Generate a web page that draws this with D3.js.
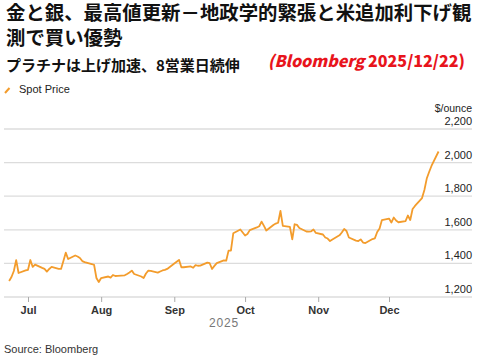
<!DOCTYPE html>
<html><head><meta charset="utf-8">
<script src="https://cdn.jsdelivr.net/npm/d3@7"></script>
<style>
html,body{margin:0;padding:0;background:#fff;}
svg{display:block;}
</style></head>
<body>
<svg id="chart" width="480" height="360"></svg>
<script>
const titleLines = ["金と銀、最高値更新－地政学的緊張と米追加利下げ観", "測で買い優勢"];
const subtitle = "プラチナは上げ加速、8営業日続伸";
const stampParts = ["(Bloomberg ", "2025/12/22)"];
const seriesName = "Spot Price";
const unitLabel = "$/ounce";
const yTicks = [1200, 1400, 1600, 1800, 2000, 2200];
const xTickDates = ["2025-07-01","2025-08-01","2025-09-01","2025-10-01","2025-11-01","2025-12-01"];
const xTickLabels = ["Jul","Aug","Sep","Oct","Nov","Dec"];
const yearLabel = "2025";
const source = "Source: Bloomberg";

const dates = [
"2025-06-23","2025-06-24","2025-06-25","2025-06-26","2025-06-27",
"2025-06-30","2025-07-01","2025-07-02","2025-07-03","2025-07-04",
"2025-07-07","2025-07-08","2025-07-09","2025-07-10","2025-07-11",
"2025-07-14","2025-07-15","2025-07-16","2025-07-17","2025-07-18",
"2025-07-21","2025-07-22","2025-07-23","2025-07-24","2025-07-25",
"2025-07-28","2025-07-29","2025-07-30","2025-07-31","2025-08-01",
"2025-08-04","2025-08-05","2025-08-06","2025-08-07","2025-08-08",
"2025-08-11","2025-08-12","2025-08-13","2025-08-14","2025-08-15",
"2025-08-18","2025-08-19","2025-08-20","2025-08-21","2025-08-22",
"2025-08-25","2025-08-26","2025-08-27","2025-08-28","2025-08-29",
"2025-09-01","2025-09-02","2025-09-03","2025-09-04","2025-09-05",
"2025-09-08","2025-09-09","2025-09-10","2025-09-11","2025-09-12",
"2025-09-15","2025-09-16","2025-09-17","2025-09-18","2025-09-19",
"2025-09-22","2025-09-23","2025-09-24","2025-09-25","2025-09-26",
"2025-09-29","2025-09-30","2025-10-01","2025-10-02","2025-10-03",
"2025-10-06","2025-10-07","2025-10-08","2025-10-09","2025-10-10",
"2025-10-13","2025-10-14","2025-10-15","2025-10-16","2025-10-17",
"2025-10-20","2025-10-21","2025-10-22","2025-10-23","2025-10-24",
"2025-10-27","2025-10-28","2025-10-29","2025-10-30","2025-10-31",
"2025-11-03","2025-11-04","2025-11-05","2025-11-06","2025-11-07",
"2025-11-10","2025-11-11","2025-11-12","2025-11-13","2025-11-14",
"2025-11-17","2025-11-18","2025-11-19","2025-11-20","2025-11-21",
"2025-11-24","2025-11-25","2025-11-26","2025-11-27","2025-11-28",
"2025-12-01","2025-12-02","2025-12-03","2025-12-04","2025-12-05",
"2025-12-08","2025-12-09","2025-12-10","2025-12-11","2025-12-12",
"2025-12-15","2025-12-16","2025-12-17","2025-12-18","2025-12-19",
"2025-12-22"];
const prices = [
1295,1319,1355,1420,1343,
1358,1362,1420,1379,1393,
1373,1367,1351,1367,1379,
1368,1367,1414,1464,1426,
1447,1441,1432,1414,1408,
1396,1392,1313,1289,1313,
1322,1315,1331,1325,1326,
1329,1337,1346,1357,1337,
1322,1313,1340,1357,1356,
1345,1352,1358,1361,1367,
1399,1410,1421,1377,1377,
1382,1374,1390,1386,1387,
1405,1401,1367,1385,1402,
1418,1416,1476,1476,1579,
1602,1584,1566,1575,1598,
1614,1621,1649,1623,1596,
1629,1637,1642,1712,1623,
1617,1543,1633,1629,1611,
1590,1589,1591,1602,1581,
1572,1554,1548,1533,1542,
1567,1584,1605,1593,1554,
1536,1533,1543,1524,1521,
1545,1549,1587,1608,1658,
1667,1643,1673,1655,1645,
1652,1685,1658,1724,1742,
1789,1837,1905,1944,1980,
2066];

const parse = d3.timeParse("%Y-%m-%d");
const data = dates.map((d,i)=>({date:parse(d), value:prices[i]}));

const svg = d3.select("#chart");
const fontLatin = "'Liberation Sans', Arial, Helvetica, sans-serif";
const fontJP = "'Noto Sans CJK JP', sans-serif";

// Title
svg.append("g").selectAll("text").data(titleLines).join("text")
  .attr("x", 6).attr("y", (d,i)=>20 + i*25)
  .attr("font-family", fontJP).attr("font-weight", 700).attr("font-size", 19.4)
  .attr("fill", "#111").text(d=>d);

svg.append("text").attr("x", 6).attr("y", 71)
  .attr("font-family", fontJP).attr("font-weight", 700).attr("font-size", 15)
  .attr("fill", "#111").text(subtitle);

const stamp = svg.append("text").attr("x", 268).attr("y", 67)
  .attr("font-family", fontJP).attr("font-weight", 900).attr("font-size", 16)
  .attr("textLength", 197).attr("lengthAdjust", "spacingAndGlyphs")
  .attr("fill", "#e8141c");
stamp.selectAll("tspan").data(stampParts).join("tspan")
  .attr("font-style", (d,i)=> i===0 ? "italic" : "normal")
  .text(d=>d);

// Scales
const x = d3.scaleTime()
  .domain([parse("2025-07-01"), parse("2025-12-01")])
  .range([28, 389]);
const y = d3.scaleLinear().domain([1200, 2200]).range([297, 129]);

const gridLeft = 4, gridRight = 472;

// Legend
svg.append("line").attr("x1", 5).attr("y1", 93).attr("x2", 9.5).attr("y2", 88)
  .attr("stroke", "#f39c2c").attr("stroke-width", 2);
svg.append("text").attr("x", 19).attr("y", 93)
  .attr("font-family", fontLatin).attr("font-size", 11).attr("fill", "#222")
  .text(seriesName);

// Gridlines
svg.append("g").selectAll("line").data(yTicks).join("line")
  .attr("x1", gridLeft).attr("x2", gridRight)
  .attr("y1", d=>y(d)).attr("y2", d=>y(d))
  .attr("stroke", "#dcdcdc").attr("stroke-width", 1.3);

// Y labels
svg.append("g").selectAll("text").data(yTicks).join("text")
  .attr("x", gridRight).attr("y", d=>y(d)-4)
  .attr("text-anchor", "end")
  .attr("font-family", fontLatin).attr("font-size", 11).attr("fill", "#222")
  .text(d=>d3.format(",")(d));
svg.append("text").attr("x", gridRight).attr("y", 112)
  .attr("text-anchor", "end")
  .attr("font-family", fontLatin).attr("font-size", 10.5).attr("fill", "#222")
  .text(unitLabel);

// X axis
const xAxis = d3.axisBottom(x)
  .tickValues(xTickDates.map(parse))
  .tickFormat((d,i)=>xTickLabels[i])
  .tickSize(5).tickPadding(4);
const gx = svg.append("g").attr("transform", `translate(0,${y(1200)})`).call(xAxis);
gx.select(".domain").remove();
gx.selectAll(".tick line").attr("stroke", "#aaa").attr("stroke-width", 1);
gx.selectAll(".tick text").attr("font-family", fontLatin).attr("font-size", 11)
  .attr("font-weight", 700).attr("fill", "#333");

svg.append("text").attr("x", 224).attr("y", 327).attr("text-anchor", "middle")
  .attr("font-family", fontLatin).attr("font-size", 12).attr("letter-spacing", 0.8)
  .attr("fill", "#777").text(yearLabel);

// Line
const line = d3.line().x(d=>x(d.date)).y(d=>y(d.value));
svg.append("path").datum(data).attr("d", line)
  .attr("fill", "none").attr("stroke", "#f39c2c").attr("stroke-width", 1.8)
  .attr("stroke-linejoin", "round");

svg.append("text").attr("x", 4).attr("y", 353)
  .attr("font-family", fontLatin).attr("font-size", 11).attr("fill", "#333")
  .text(source);
</script>
</body></html>
